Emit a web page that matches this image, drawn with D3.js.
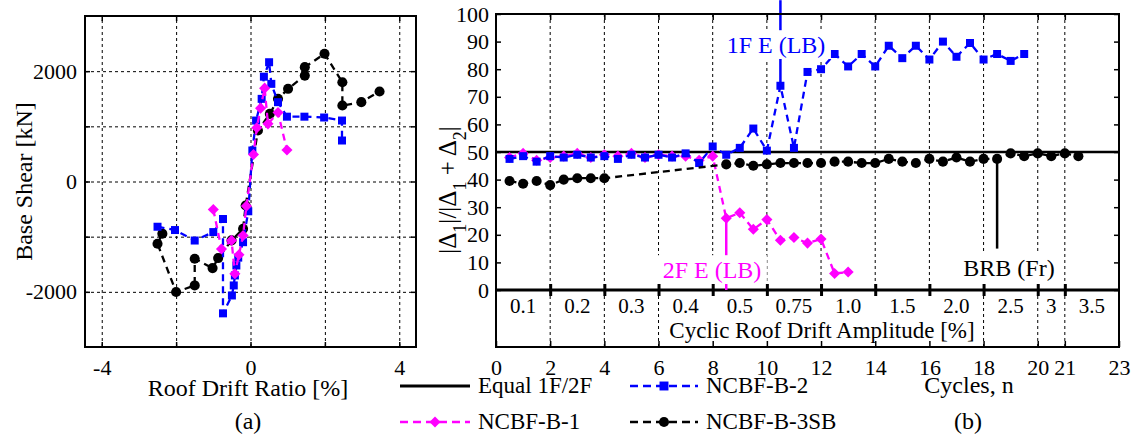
<!DOCTYPE html>
<html>
<head>
<meta charset="utf-8">
<script src="https://cdn.jsdelivr.net/npm/d3@7"></script>
</head>
<body style="margin:0">
<svg id="chart" width="1135" height="441" style="font-family: 'Liberation Serif'"></svg>
<script>
// ---- panel (a): base shear vs roof drift ----
const driftGrid = [-4, -2, 0, 2, 4];
const driftLabels = [-4, 0, 4];
const shearGrid = [-2000, -1000, 0, 1000, 2000];
const shearLabels = [-2000, 0, 2000];

const b1Drift = [-1.0, -0.78, -0.51, -0.42, -0.31, -0.2, -0.11, 0.08, 0.17, 0.27, 0.38, 0.47, 0.74, 0.98];
const b1Shear = [-507, -1225, -1068, -1672, -1328, -978, -446, 490, 975, 1330, 1692, 1045, 1250, 570];

const b2Drift = [-2.5, -2.03, -1.5, -1.0, -0.74, -0.74, -0.5, -0.45, -0.42, -0.38, -0.33, -0.2, -0.06, 0.05, 0.15, 0.3, 0.36, 0.5, 0.56, 0.74, 0.98, 1.45, 1.98, 2.46, 2.46];
const b2Shear = [-820, -880, -1070, -917, -680, -2390, -2066, -1884, -1703, -1522, -1380, -1100, -540, 562, 1105, 1498, 1900, 2162, 1770, 1438, 1175, 1175, 1160, 1105, 743];

const b3Drift = [-2.37, -2.5, -2.0, -1.5, -1.5, -1.02, -0.87, -0.51, -0.2, -0.13, 0.2, 0.52, 0.74, 1.01, 1.46, 1.46, 1.99, 2.47, 2.47, 2.98, 3.47];
const b3Shear = [-946, -1129, -2004, -1884, -1400, -1570, -1388, -1068, -857, -435, 924, 1226, 1498, 1680, 1920, 2073, 2315, 1800, 1377, 1438, 1631];

// ---- panel (b): drift share vs cycles ----
const cycleTicks = [0, 2, 4, 6, 8, 10, 12, 14, 16, 18, 20, 21, 23];
const cycleGrid = [2, 4, 6, 8, 10, 12, 14, 16, 18, 20, 21];
const boxGrid = [2, 4, 6, 18, 20, 21];
const ampBounds = [0, 2, 4, 6, 8, 10, 12, 14, 16, 18, 20, 21, 23];
const ampLabels = ["0.1", "0.2", "0.3", "0.4", "0.5", "0.75", "1.0", "1.5", "2.0", "2.5", "3", "3.5"];
const ratioTicks = [0, 10, 20, 30, 40, 50, 60, 70, 80, 90, 100];
const equalShare = 50;

const cycB1 = [0.5, 1, 1.5, 2, 2.5, 3, 3.5, 4, 4.5, 5, 5.5, 6, 6.5, 7, 7.5, 8, 8.5, 9, 9.5, 10, 10.5, 11, 11.5, 12, 12.5, 13];
const ratioB1 = [48, 49.5, 47, 48, 48.5, 49.5, 48, 49, 48.5, 49.5, 48, 49, 48.5, 48.5, 47, 48.5, 26, 28, 22, 25.5, 18, 19, 17, 18.5, 6, 6.5];

const cycB2 = [0.5, 1, 1.5, 2, 2.5, 3, 3.5, 4, 4.5, 5, 5.5, 6, 6.5, 7, 7.5, 8, 8.5, 9, 9.5, 10, 10.5, 11, 11.5, 12, 12.5, 13, 13.5, 14, 14.5, 15, 15.5, 16, 16.5, 17, 17.5, 18, 18.5, 19, 19.5];
const ratioB2 = [47.5, 48.5, 46.5, 48.5, 48, 49, 48, 48.5, 47.5, 49, 48, 49, 48, 49.5, 46, 52, 49, 51.5, 58.5, 50.5, 74, 51.5, 79, 80, 85.5, 81, 85.5, 81, 88.5, 84, 88.5, 83.5, 90, 84.5, 89.5, 83.5, 85.5, 83, 85.5];

const cycB3 = [0.5, 1, 1.5, 2, 2.5, 3, 3.5, 4, 8.5, 9, 9.5, 10, 10.5, 11, 11.5, 12, 12.5, 13, 13.5, 14, 14.5, 15, 15.5, 16, 16.5, 17, 17.5, 18, 18.5, 19, 19.5, 20, 20.5, 21, 21.5];
const ratioB3 = [39.5, 38.5, 39.5, 38, 40, 40.5, 40.5, 40.5, 45.5, 46, 45, 45.5, 46, 46, 46, 46, 46.5, 46.5, 46, 46, 47.5, 46.5, 46, 47.5, 46.5, 48, 46.5, 47.5, 47.5, 49.5, 48.5, 49.5, 48.5, 49.5, 48.5];

const colors = { b1: "#ff00ff", b2: "#0000ff", b3: "#000000" };
const plain = d => String(d);   // hyphen minus, as in the figure

const svg = d3.select("#chart");

// ---------- panel (a) ----------
const A = { left: 85, right: 416, top: 16, bottom: 347 };
const xa = d3.scaleLinear().domain([-4.45, 4.45]).range([A.left, A.right]);
const ya = d3.scaleLinear().domain([-3000, 3000]).range([A.bottom, A.top]);

const ga = svg.append("g");

function gridAxis(g, axis) {
    g.call(axis);
    g.select(".domain").remove();
    g.selectAll("text").remove();
    g.selectAll("line").attr("stroke", "#000").attr("stroke-width", 1).attr("stroke-dasharray", "3,3");
}
ga.append("g").attr("transform", `translate(0, ${A.bottom})`)
    .call(g => gridAxis(g, d3.axisBottom(xa).tickValues(driftGrid).tickSize(-(A.bottom - A.top))));
ga.append("g").attr("transform", `translate(${A.left}, 0)`)
    .call(g => gridAxis(g, d3.axisLeft(ya).tickValues(shearGrid).tickSize(-(A.right - A.left))));

// inward ticks + labels
function tickAxis(g, axis, labels) {
    g.call(axis);
    g.attr("font-family", null);
    g.select(".domain").remove();
    g.selectAll("line").attr("stroke", "#000").attr("stroke-width", 1.5);
    if (labels) g.selectAll("text").attr("font-size", 22).attr("fill", "#000");
    else g.selectAll("text").remove();
}
ga.append("g").attr("transform", `translate(0, ${A.bottom})`)
    .call(g => tickAxis(g, d3.axisBottom(xa).tickValues(driftGrid).tickSize(-5)));
ga.append("g").attr("transform", `translate(0, ${A.top})`)
    .call(g => tickAxis(g, d3.axisTop(xa).tickValues(driftGrid).tickSize(-5)));
ga.append("g").attr("transform", `translate(${A.left}, 0)`)
    .call(g => tickAxis(g, d3.axisLeft(ya).tickValues(shearGrid).tickSize(-5)));
ga.append("g").attr("transform", `translate(${A.right}, 0)`)
    .call(g => tickAxis(g, d3.axisRight(ya).tickValues(shearGrid).tickSize(-5)));
ga.append("g").attr("transform", `translate(0, ${A.bottom})`)
    .call(g => tickAxis(g, d3.axisBottom(xa).tickValues(driftLabels).tickSize(0).tickPadding(12).tickFormat(plain), true))
    .call(g => g.selectAll("line").remove());
ga.append("g").attr("transform", `translate(${A.left}, 0)`)
    .call(g => tickAxis(g, d3.axisLeft(ya).tickValues(shearLabels).tickSize(0).tickPadding(8).tickFormat(plain), true))
    .call(g => g.selectAll("line").remove());

const lineA = d3.line().x(d => xa(d[0])).y(d => ya(d[1]));

function drawSeries(g, pts, line, color, shape, size) {
    g.append("path")
        .datum(pts)
        .attr("d", line)
        .attr("fill", "none")
        .attr("stroke", color)
        .attr("stroke-width", 2.3)
        .attr("stroke-dasharray", "7,5");
    g.selectAll(null)
        .data(pts)
        .enter()
        .append("path")
        .attr("transform", d => `translate(${line.x()(d)}, ${line.y()(d)})`)
        .attr("d", d3.symbol().type(shape).size(size))
        .attr("fill", color);
}

const diamond = {
    draw(ctx, size) {
        const r = Math.sqrt(size) * 0.62;
        ctx.moveTo(0, -r); ctx.lineTo(r, 0); ctx.lineTo(0, r); ctx.lineTo(-r, 0); ctx.closePath();
    }
};

drawSeries(ga, d3.zip(b3Drift, b3Shear), lineA, colors.b3, d3.symbolCircle, 80);
drawSeries(ga, d3.zip(b2Drift, b2Shear), lineA, colors.b2, d3.symbolSquare, 64);
drawSeries(ga, d3.zip(b1Drift, b1Shear), lineA, colors.b1, diamond, 80);

ga.append("rect")
    .attr("x", A.left).attr("y", A.top)
    .attr("width", A.right - A.left).attr("height", A.bottom - A.top)
    .attr("fill", "none").attr("stroke", "#000").attr("stroke-width", 2);

ga.append("text")
    .attr("transform", `translate(32, ${(A.top + A.bottom) / 2}) rotate(-90)`)
    .attr("text-anchor", "middle").attr("font-size", 24)
    .text("Base Shear [kN]");
ga.append("text")
    .attr("x", 248).attr("y", 396)
    .attr("text-anchor", "middle").attr("font-size", 24)
    .text("Roof Drift Ratio [%]");
ga.append("text")
    .attr("x", 248).attr("y", 429)
    .attr("text-anchor", "middle").attr("font-size", 24)
    .text("(a)");

// ---------- panel (b) ----------
const B = { left: 496, right: 1119, top: 14, zero: 290, bottom: 347 };
const xb = d3.scaleLinear().domain([0, 23]).range([B.left, B.right]);
const yb = d3.scaleLinear().domain([0, 100]).range([B.zero, B.top]);

const gb = svg.append("g");

// dashed grid in the main area and in the amplitude box
gb.append("g").selectAll("line").data(cycleGrid).enter().append("line")
    .attr("x1", d => xb(d)).attr("x2", d => xb(d))
    .attr("y1", B.top).attr("y2", B.zero)
    .attr("stroke", "#000").attr("stroke-width", 1).attr("stroke-dasharray", "3,3");
gb.append("g").selectAll("line").data(boxGrid).enter().append("line")
    .attr("x1", d => xb(d)).attr("x2", d => xb(d))
    .attr("y1", B.zero).attr("y2", B.bottom)
    .attr("stroke", "#000").attr("stroke-width", 1).attr("stroke-dasharray", "3,3");

// ticks
gb.append("g").attr("transform", `translate(${B.left}, 0)`)
    .call(g => tickAxis(g, d3.axisLeft(yb).tickValues(ratioTicks).tickSize(-5).tickPadding(7).tickFormat(plain), true));
gb.append("g").attr("transform", `translate(${B.right}, 0)`)
    .call(g => tickAxis(g, d3.axisRight(yb).tickValues(ratioTicks).tickSize(-5)));
gb.append("g").attr("transform", `translate(0, ${B.top})`)
    .call(g => tickAxis(g, d3.axisTop(xb).tickValues(cycleGrid).tickSize(-6)));
gb.append("g").attr("transform", `translate(0, ${B.bottom})`)
    .call(g => tickAxis(g, d3.axisBottom(xb).tickValues(cycleTicks).tickSize(-6).tickPadding(12).tickFormat(plain), true));
gb.append("g").attr("transform", `translate(0, ${B.zero + 6})`)
    .call(g => tickAxis(g, d3.axisBottom(xb).tickValues(cycleGrid).tickSize(-12)))
    .call(g => g.selectAll("line").attr("stroke-width", 3));

// zero line and equal share line
gb.append("line")
    .attr("x1", B.left).attr("x2", B.right)
    .attr("y1", yb(0)).attr("y2", yb(0))
    .attr("stroke", "#000").attr("stroke-width", 3);
gb.append("line")
    .attr("x1", B.left).attr("x2", B.right)
    .attr("y1", yb(equalShare)).attr("y2", yb(equalShare))
    .attr("stroke", "#000").attr("stroke-width", 2.5);

// amplitude labels
gb.append("g").selectAll("text").data(ampLabels).enter().append("text")
    .attr("x", (d, i) => xb((ampBounds[i] + ampBounds[i + 1]) / 2))
    .attr("y", 313)
    .attr("text-anchor", "middle").attr("font-size", 21)
    .text(d => d);
gb.append("text")
    .attr("x", 822).attr("y", 338)
    .attr("text-anchor", "middle").attr("font-size", 23)
    .text("Cyclic Roof Drift Amplitude [%]");

const lineB = d3.line().x(d => xb(d[0])).y(d => yb(d[1]));

// annotations: marker line, white box, label
function annotate(cycle, from, to, color, label, lx, ly) {
    const fs = 24;
    gb.append("line")
        .attr("x1", xb(cycle)).attr("x2", xb(cycle))
        .attr("y1", yb(from)).attr("y2", yb(to))
        .attr("stroke", color).attr("stroke-width", 2.5);
    const w = label.length * fs * 0.48;
    gb.append("rect")
        .attr("x", lx - w / 2 - 3).attr("y", ly - fs * 0.95)
        .attr("width", w + 6).attr("height", fs * 1.2)
        .attr("fill", "#fff");
    gb.append("text")
        .attr("x", lx).attr("y", ly)
        .attr("text-anchor", "middle").attr("font-size", fs)
        .attr("fill", color)
        .text(label);
}

drawSeries(gb, d3.zip(cycB1, ratioB1), lineB, colors.b1, diamond, 80);
drawSeries(gb, d3.zip(cycB2, ratioB2), lineB, colors.b2, d3.symbolSquare, 64);
drawSeries(gb, d3.zip(cycB3, ratioB3), lineB, colors.b3, d3.symbolCircle, 80);

annotate(10.5, 74, 105, colors.b2, "1F E (LB)", 776, 53);
annotate(8.5, 26, 0, colors.b1, "2F E (LB)", 712, 278);
annotate(18.5, 47.5, 15, colors.b3, "BRB (Fr)", 1009, 276);

gb.append("rect")
    .attr("x", B.left).attr("y", B.top)
    .attr("width", B.right - B.left).attr("height", B.bottom - B.top)
    .attr("fill", "none").attr("stroke", "#000").attr("stroke-width", 2);

// y label with subscripts
const yl = gb.append("text")
    .attr("transform", `translate(456, 190) rotate(-90)`)
    .attr("text-anchor", "middle").attr("font-size", 25);
[["|Δ", false], ["1", true], ["|/|Δ", false], ["1", true], [" + Δ", false], ["2", true], ["|", false]]
    .forEach(([s, sub]) => {
        const ts = yl.append("tspan").text(s);
        if (sub) ts.attr("baseline-shift", "sub").attr("font-size", 18);
    });

gb.append("text")
    .attr("x", 969).attr("y", 393)
    .attr("text-anchor", "middle").attr("font-size", 24)
    .text("Cycles, n");
gb.append("text")
    .attr("x", 968).attr("y", 429)
    .attr("text-anchor", "middle").attr("font-size", 24)
    .text("(b)");

// ---------- legend ----------
const legendNames = ["Equal 1F/2F", "NCBF-B-2", "NCBF-B-1", "NCBF-B-3SB"];
const legendColors = ["#000000", colors.b2, colors.b1, colors.b3];
const legendShapes = [null, d3.symbolSquare, diamond, d3.symbolCircle];
const legendPos = [[400, 386], [630, 386], [400, 422], [630, 422]];

const gl = svg.append("g");
legendNames.forEach((name, i) => {
    const [x, y] = legendPos[i];
    const w = i % 2 === 0 ? 70 : 68;
    gl.append("line")
        .attr("x1", x).attr("x2", x + w).attr("y1", y).attr("y2", y)
        .attr("stroke", legendColors[i])
        .attr("stroke-width", i === 0 ? 3 : 2.3)
        .attr("stroke-dasharray", i === 0 ? null : "8,5");
    if (legendShapes[i]) {
        gl.append("path")
            .attr("transform", `translate(${x + w / 2}, ${y})`)
            .attr("d", d3.symbol().type(legendShapes[i]).size(80))
            .attr("fill", legendColors[i]);
    }
    gl.append("text")
        .attr("x", x + w + 8).attr("y", y + 7)
        .attr("font-size", 23)
        .text(name);
});

svg.selectAll("text").style("font-family", "\"Liberation Serif\"");
</script>
</body>
</html>
